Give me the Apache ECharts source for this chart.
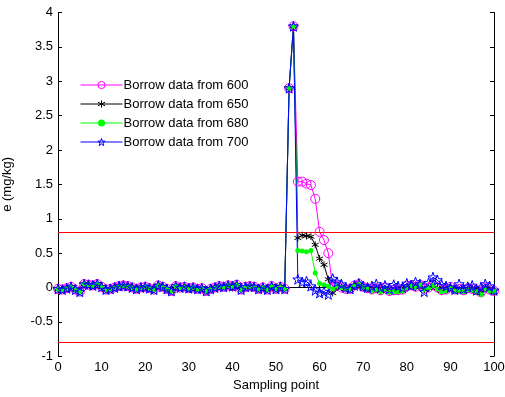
<!DOCTYPE html>
<html>
<head>
<meta charset="utf-8">
<script src="https://cdn.jsdelivr.net/npm/echarts@6/dist/echarts.min.js"></script>
<style>html,body{margin:0;padding:0;background:#fff}#c{width:505px;height:397px}</style>
</head>
<body>
<div id="c"></div>
<script>
// Shared values for sampling points 0..54 (all four series coincide here)
var common = [-0.02,-0.03,-0.01,0.01,-0.03,-0.06,0.05,0.04,0.03,0.05,
  0.01,-0.03,-0.02,0.0,0.02,0.03,0.02,0.0,-0.02,0.0,
  0.01,-0.01,-0.03,0.03,0.01,-0.02,-0.05,0.02,0.0,0.01,
  -0.01,0.0,-0.02,-0.01,-0.05,-0.02,0.0,0.02,0.01,0.03,
  0.02,0.04,-0.03,0.01,0.02,0.01,-0.02,0.0,-0.03,0.02,
  -0.02,0.01,-0.02,2.9,3.8];
// Values for sampling points 55..100
var tail600 = [1.54,1.54,1.51,1.49,1.29,0.81,0.69,0.50,0.0,0.03,
  0.0,-0.02,-0.02,0.03,0.05,0.01,-0.01,-0.03,-0.01,-0.04,
  0.0,-0.05,-0.04,-0.04,-0.03,0.02,0.03,0.01,0.04,-0.02,
  0.0,0.04,0.0,-0.04,-0.03,0.01,-0.03,-0.02,-0.04,-0.01,
  -0.02,-0.04,-0.07,0.0,-0.03,-0.05];
var tail650 = [0.72,0.76,0.75,0.74,0.62,0.42,0.33,0.12,-0.08,0.0,
  0.0,-0.02,-0.03,0.02,0.04,0.0,-0.02,-0.04,-0.02,-0.05,
  -0.01,-0.06,-0.05,-0.05,-0.04,0.01,0.02,0.0,0.03,-0.03,
  -0.01,0.03,-0.01,-0.05,-0.04,0.0,-0.04,-0.03,-0.05,-0.02,
  -0.03,-0.05,-0.08,-0.01,-0.04,-0.06];
var tail680 = [0.54,0.53,0.52,0.54,0.21,0.06,0.04,0.02,-0.02,0.02,
  0.0,-0.02,-0.03,0.02,0.04,0.0,-0.02,-0.05,-0.03,-0.06,
  -0.02,-0.07,-0.06,-0.06,-0.05,0.0,0.02,0.0,0.03,-0.03,
  -0.01,0.03,-0.02,-0.06,-0.05,0.0,-0.05,-0.04,-0.06,-0.03,
  -0.04,-0.06,-0.1,-0.02,-0.05,-0.06];
var tail700 = [0.12,0.08,0.09,0.02,-0.04,-0.08,-0.06,-0.1,0.13,0.08,
  0.05,0.0,-0.02,0.03,0.06,0.02,0.0,0.02,0.05,0.0,
  0.03,-0.02,0.04,0.02,0.0,0.06,0.03,0.08,0.05,-0.06,
  0.07,0.15,0.11,0.04,0.02,0.0,-0.03,0.05,-0.02,0.01,
  0.03,-0.04,0.0,0.05,0.02,-0.04];
var names = ['Borrow data from 600','Borrow data from 650','Borrow data from 680','Borrow data from 700'];
var thresholds = [0.8, -0.8];
var xTicks = [0,10,20,30,40,50,60,70,80,90,100];
var yTicks = [-1,-0.5,0,0.5,1,1.5,2,2.5,3,3.5,4];

function pairs(tail){
  var v = common.concat(tail);
  return v.map(function(y,i){ return [i, y]; });
}

var star = 'path://M0,-1L0.235,-0.324L0.951,-0.309L0.380,0.124L0.588,0.809L0,0.4L-0.588,0.809L-0.380,0.124L-0.951,-0.309L-0.235,-0.324Z';
var aster = 'path://M0,-1L0,1M-0.866,-0.5L0.866,0.5M-0.866,0.5L0.866,-0.5';
var font = 'Liberation Sans, Arial, sans-serif';

var styles = [
  {line:'#ff00ff', symbol:'circle', size:9, item:{color:'rgba(0,0,0,0)', borderColor:'#ff00ff', borderWidth:1}},
  {line:'#000000', symbol:aster, size:7, item:{color:'#000000', borderColor:'#000000', borderWidth:1}},
  {line:'#00ff00', symbol:'circle', size:5, item:{color:'#00ff00', borderColor:'#00ff00', borderWidth:0}},
  {line:'#0000ff', symbol:star, size:10, item:{color:'rgba(0,0,0,0)', borderColor:'#0000ff', borderWidth:1}}
];
var tails = [tail600, tail650, tail680, tail700];

var axisCommonX = {
  type:'value', min:xTicks[0], max:xTicks[xTicks.length-1], interval:10,
  axisLine:{show:true, lineStyle:{color:'#000', width:1}},
  axisTick:{show:true, inside:true, length:4, lineStyle:{color:'#000'}},
  splitLine:{show:false}
};
var axisCommonY = {
  type:'value', min:yTicks[0], max:yTicks[yTicks.length-1], interval:0.5,
  axisLine:{show:true, onZero:false, lineStyle:{color:'#000', width:1}},
  axisTick:{show:true, inside:true, length:4, lineStyle:{color:'#000'}},
  splitLine:{show:false}
};

var series = names.map(function(n, k){
  var s = styles[k];
  return {name:n, type:'line', data:pairs(tails[k]), symbol:s.symbol, symbolSize:s.size,
    lineStyle:{color:s.line, width:1}, itemStyle:s.item};
});
series.push({type:'line', data:[[xTicks[0],thresholds[0]],[xTicks[xTicks.length-1],thresholds[0]]], symbol:'none',
  lineStyle:{color:'#ff0000', width:1}, silent:true});
series.push({type:'line', data:[[xTicks[0],thresholds[1]],[xTicks[xTicks.length-1],thresholds[1]]], symbol:'none',
  lineStyle:{color:'#ff0000', width:1}, silent:true});

var chart = echarts.init(document.getElementById('c'), null, {renderer:'canvas'});
chart.setOption({
  animation:false,
  backgroundColor:'#fff',
  grid:{left:58, right:11, top:12.5, bottom:40.75, containLabel:false, outerBoundsMode:'none'},
  legend:{
    data:names.map(function(n,k){
      var s = styles[k];
      return {name:n, itemStyle:s.item, lineStyle:{color:s.line, width:1}};
    }),
    left:80, top:78, orient:'vertical',
    itemWidth:42, itemHeight:9, itemGap:5,
    textStyle:{fontFamily:font, fontSize:13, color:'#000', lineHeight:14, padding:[0,0,0,-4]},
    padding:0
  },
  xAxis:[
    Object.assign({}, axisCommonX, {position:'bottom',
      name:'Sampling point', nameLocation:'middle', nameGap:21,
      nameTextStyle:{fontFamily:font, fontSize:13, color:'#000'},
      axisLabel:{fontFamily:font, fontSize:13, color:'#000', margin:5}}),
    Object.assign({}, axisCommonX, {position:'top', axisLabel:{show:false}})
  ],
  yAxis:[
    Object.assign({}, axisCommonY, {position:'left',
      name:'e (mg/kg)', nameLocation:'middle', nameGap:44, nameRotate:90,
      nameTextStyle:{fontFamily:font, fontSize:13, color:'#000'},
      axisLabel:{fontFamily:font, fontSize:13, color:'#000', margin:5}}),
    Object.assign({}, axisCommonY, {position:'right', axisLabel:{show:false}})
  ],
  series:series
});
</script>
</body>
</html>
